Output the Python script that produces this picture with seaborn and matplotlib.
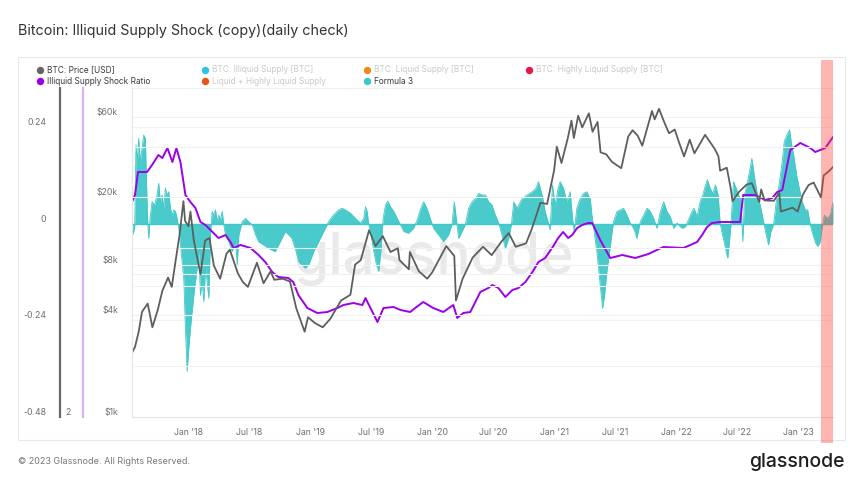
import numpy as np
import pandas as pd
import matplotlib
matplotlib.use("Agg")
import matplotlib.pyplot as plt
import matplotlib.dates as mdates
import matplotlib.transforms as mtransforms
from matplotlib.patches import Rectangle
from matplotlib.lines import Line2D
import seaborn as sns

# ---------------- data ----------------
title = "Bitcoin: Illiquid Supply Shock (copy)(daily check)"

price_dates = [
    "2017-07-16", "2017-07-25", "2017-08-05", "2017-08-15", "2017-09-01", "2017-09-15",
    "2017-10-01", "2017-10-15", "2017-11-01", "2017-11-12", "2017-11-25", "2017-12-05",
    "2017-12-17", "2017-12-22", "2018-01-01", "2018-01-07", "2018-01-17", "2018-02-06",
    "2018-02-20", "2018-03-05", "2018-03-18", "2018-04-06", "2018-04-25", "2018-05-05",
    "2018-05-29", "2018-06-13", "2018-06-28", "2018-07-25", "2018-08-14", "2018-09-04",
    "2018-09-15", "2018-10-10", "2018-11-01", "2018-11-20", "2018-12-15", "2018-12-25",
    "2019-01-15", "2019-02-07", "2019-03-01", "2019-04-03", "2019-05-01", "2019-05-15",
    "2019-06-01", "2019-06-26", "2019-07-15", "2019-08-06", "2019-08-29", "2019-09-20",
    "2019-09-25", "2019-10-23", "2019-10-26", "2019-11-22", "2019-12-17", "2020-01-01",
    "2020-02-12", "2020-03-07", "2020-03-12", "2020-04-01", "2020-05-01", "2020-06-01",
    "2020-06-27", "2020-07-27", "2020-08-17", "2020-09-07", "2020-10-08", "2020-10-25",
    "2020-11-20", "2020-12-10", "2020-12-31", "2021-01-08", "2021-01-22", "2021-02-10",
    "2021-02-21", "2021-02-28", "2021-03-13", "2021-03-25", "2021-04-14", "2021-04-25",
    "2021-05-10", "2021-05-19", "2021-06-05", "2021-06-22", "2021-07-20", "2021-08-10",
    "2021-08-23", "2021-09-07", "2021-09-21", "2021-10-20", "2021-10-28", "2021-11-10",
    "2021-11-27", "2021-12-10", "2021-12-27", "2022-01-10", "2022-01-24", "2022-02-10",
    "2022-02-24", "2022-03-28", "2022-04-25", "2022-05-07", "2022-05-12", "2022-06-01",
    "2022-06-13", "2022-06-18", "2022-07-07", "2022-07-30", "2022-08-15", "2022-09-06",
    "2022-09-12", "2022-09-22", "2022-10-20", "2022-11-05", "2022-11-10", "2022-12-15",
    "2022-12-30", "2023-01-15", "2023-02-01", "2023-02-16", "2023-03-10", "2023-03-18",
    "2023-04-01", "2023-04-15",
]
price_usd = [
    2400, 2600, 3200, 4200, 4700, 3400,
    4300, 5600, 6700, 5900, 8800, 11800,
    19000, 14500, 13500, 16500, 11200, 7000,
    11100, 11500, 7900, 6600, 9300, 9800,
    7100, 6300, 5900, 8200, 6200, 7300,
    6500, 6600, 6350, 4400, 3200, 3900,
    3600, 3400, 3800, 4900, 5300, 8000,
    8500, 12800, 10300, 11800, 9500, 10000,
    8500, 7500, 9500, 7300, 6600, 7200,
    10300, 9000, 4900, 6600, 8800, 10200,
    9100, 11000, 12300, 10200, 10700, 13000,
    18600, 18300, 29000, 40000, 32000, 45000,
    57000, 45000, 61000, 52000, 63000, 49000,
    56000, 37000, 36000, 32500, 29800, 46000,
    50000, 46500, 40500, 65000, 58000, 67000,
    55000, 48000, 50500, 41800, 35000, 44000,
    36500, 47000, 39000, 35000, 28800, 30000,
    22500, 19000, 21500, 23800, 24300, 18800,
    22300, 19200, 19100, 21300, 16500, 17400,
    16500, 20800, 23700, 24500, 20000, 27000,
    28400, 30300,
]

ratio_dates = [
    "2017-07-16", "2017-07-25", "2017-08-03", "2017-08-30", "2017-09-14", "2017-10-03",
    "2017-10-15", "2017-10-30", "2017-11-14", "2017-11-26", "2017-12-08", "2017-12-23",
    "2018-01-07", "2018-01-22", "2018-02-06", "2018-02-21", "2018-03-14", "2018-04-01",
    "2018-04-22", "2018-05-07", "2018-05-16", "2018-06-06", "2018-07-06", "2018-07-30",
    "2018-08-19", "2018-09-09", "2018-09-27", "2018-10-27", "2018-11-11", "2018-11-26",
    "2018-12-17", "2018-12-23", "2019-01-22", "2019-02-21", "2019-03-23", "2019-04-10",
    "2019-05-10", "2019-06-06", "2019-06-15", "2019-06-30", "2019-07-21", "2019-08-08",
    "2019-09-07", "2019-09-28", "2019-10-27", "2019-11-11", "2019-12-05", "2020-01-04",
    "2020-02-03", "2020-03-04", "2020-03-16", "2020-04-03", "2020-04-24", "2020-05-15",
    "2020-05-24", "2020-06-17", "2020-06-29", "2020-07-17", "2020-08-07", "2020-08-28",
    "2020-09-15", "2020-10-06", "2020-10-27", "2020-11-14", "2020-12-04", "2020-12-25",
    "2021-01-12", "2021-01-27", "2021-02-11", "2021-02-23", "2021-03-10", "2021-03-25",
    "2021-04-12", "2021-04-24", "2021-05-18", "2021-06-17", "2021-07-23", "2021-08-31",
    "2021-10-09", "2021-11-23", "2022-01-22", "2022-02-12", "2022-03-04", "2022-03-19",
    "2022-04-03", "2022-04-18", "2022-05-12", "2022-06-17", "2022-07-11", "2022-07-20",
    "2022-08-25", "2022-09-24", "2022-10-15", "2022-10-30", "2022-11-14", "2022-12-08",
    "2022-12-17", "2023-01-07", "2023-02-06", "2023-02-21", "2023-03-08", "2023-03-23",
    "2023-04-15",
]
ratio_vals = [
    2.860, 2.888, 2.980, 2.980, 3.008, 3.048,
    3.036, 3.076, 3.020, 3.076, 3.020, 2.888,
    2.860, 2.836, 2.780, 2.768, 2.740, 2.716,
    2.728, 2.700, 2.676, 2.688, 2.676, 2.648,
    2.620, 2.580, 2.560, 2.556, 2.540, 2.488,
    2.448, 2.436, 2.416, 2.420, 2.436, 2.448,
    2.456, 2.448, 2.476, 2.436, 2.380, 2.436,
    2.440, 2.428, 2.420, 2.436, 2.460, 2.436,
    2.420, 2.448, 2.396, 2.416, 2.420, 2.476,
    2.500, 2.516, 2.528, 2.516, 2.480, 2.508,
    2.516, 2.540, 2.580, 2.620, 2.636, 2.676,
    2.716, 2.740, 2.716, 2.728, 2.756, 2.768,
    2.776, 2.776, 2.708, 2.636, 2.648, 2.636,
    2.652, 2.680, 2.676, 2.688, 2.700, 2.728,
    2.760, 2.776, 2.780, 2.780, 2.780, 2.888,
    2.888, 2.868, 2.876, 2.900, 2.908, 3.068,
    3.076, 3.096, 3.076, 3.060, 3.068, 3.076,
    3.120,
]

# Formula 3: days since 2018-01-01 and values
f3_epoch = "2018-01-01"
f3_days = [
    -167, -161, -157, -153, -149, -144, -139, -134, -129, -126, -122, -119, -115, -109,
    -101, -94, -89, -84, -79, -74, -69, -64, -59, -54, -49, -44, -39, -34,
    -29, -24, -19, -14, -9, -4, 1, 6, 11, 16, 21, 26, 31, 36,
    41, 46, 51, 56, 61, 66, 71, 76, 81, 86, 91, 96, 101, 106,
    111, 121, 131, 141, 146, 151, 161, 171, 180, 191, 201, 210, 225, 240,
    260, 275, 290, 300, 310, 320, 330, 340, 350, 360, 375, 390, 400, 410,
    420, 430, 440, 450, 460, 470, 485, 500, 515, 525, 530, 535, 540, 547,
    555, 563, 570, 577, 583, 590, 597, 605, 615, 625, 635, 645, 659, 674,
    685, 694, 704, 714, 724, 734, 749, 764, 779, 789, 796, 802, 809, 819,
    829, 839, 849, 859, 869, 879, 889, 899, 909, 919, 929, 939, 949, 959,
    967, 974, 984, 999, 1014, 1029, 1041, 1048, 1059, 1068, 1078, 1083, 1090, 1098,
    1107, 1113, 1123, 1133, 1143, 1150, 1155, 1163, 1173, 1183, 1193, 1203, 1208, 1216,
    1223, 1230, 1236, 1240, 1246, 1253, 1260, 1266, 1273, 1283, 1293, 1303, 1313, 1323,
    1333, 1343, 1353, 1363, 1373, 1383, 1393, 1403, 1413, 1423, 1433, 1443, 1453, 1463,
    1478, 1488, 1497, 1508, 1514, 1523, 1532, 1540, 1547, 1554, 1562, 1570, 1578, 1586,
    1592, 1597, 1604, 1610, 1615, 1620, 1625, 1632, 1640, 1647, 1654, 1660, 1665, 1672,
    1680, 1687, 1694, 1702, 1712, 1722, 1730, 1737, 1744, 1752, 1760, 1770, 1778, 1784,
    1792, 1800, 1806, 1812, 1821, 1829, 1838, 1847, 1854, 1862, 1870, 1878, 1885, 1892,
    1897, 1904, 1912, 1922, 1930,
]
f3_vals = [
    -0.027, -0.011, 0.197, 0.155, 0.213, 0.155, 0.188, 0.221, 0.213, 0.114, 0.006, -0.036, 0.014, 0.055,
    0.047, 0.072, 0.101, 0.055, 0.072, 0.039, 0.089, 0.072, 0.080, 0.039, 0.022, 0.035, 0.031, 0.014,
    -0.011, -0.052, -0.094, -0.135, -0.260, -0.367, -0.309, -0.260, -0.218, -0.177, -0.143, -0.110, -0.069, -0.177,
    -0.143, -0.193, -0.110, -0.143, -0.185, -0.027, 0.031, 0.022, 0.035, 0.006, 0.022, 0.010, 0.031, -0.002,
    -0.027, -0.044, -0.069, -0.044, -0.102, -0.027, 0.006, 0.014, 0.006, -0.002, -0.027, -0.044, -0.052, -0.061,
    -0.069, -0.044, -0.019, -0.027, -0.036, -0.061, -0.094, -0.102, -0.110, -0.102, -0.069, -0.044, -0.027, -0.011,
    0.006, 0.018, 0.027, 0.035, 0.039, 0.035, 0.027, 0.014, 0.002, 0.014, 0.043, 0.031, -0.002, -0.027,
    -0.069, -0.102, -0.118, -0.061, 0.014, 0.047, 0.057, 0.043, 0.031, 0.014, -0.002, -0.019, -0.023, -0.011,
    0.010, 0.035, 0.055, 0.039, 0.014, -0.011, -0.027, -0.044, -0.027, -0.002, 0.055, 0.014, -0.036, -0.019,
    -0.002, 0.039, 0.055, 0.063, 0.076, 0.072, 0.072, 0.055, 0.047, 0.022, 0.002, -0.027, -0.061, -0.036,
    -0.002, 0.055, 0.039, 0.063, 0.072, 0.080, 0.089, 0.105, 0.072, 0.031, 0.002, -0.015, 0.097, 0.047,
    0.089, 0.105, 0.089, 0.055, 0.080, 0.014, -0.019, 0.039, 0.063, 0.076, 0.080, 0.063, 0.022, -0.027,
    -0.069, -0.127, -0.177, -0.210, -0.177, -0.118, -0.077, -0.036, 0.006, 0.031, 0.035, 0.039, 0.022, 0.002,
    -0.011, -0.036, 0.006, 0.022, 0.039, 0.031, 0.014, -0.011, 0.031, 0.055, 0.031, 0.018, -0.011, 0.002,
    -0.011, -0.007, 0.010, 0.031, 0.039, 0.018, 0.055, 0.072, 0.093, 0.110, 0.089, 0.076, 0.097, 0.072,
    0.002, -0.019, -0.044, -0.069, -0.085, -0.044, 0.006, 0.105, 0.089, 0.072, 0.064, -0.044, 0.072, 0.097,
    0.130, 0.163, 0.122, 0.080, 0.047, 0.006, -0.027, -0.052, -0.019, -0.002, 0.055, 0.105, 0.155, 0.205,
    0.221, 0.234, 0.197, 0.172, 0.122, 0.089, 0.055, 0.035, 0.035, -0.002, -0.027, -0.048, -0.056, -0.044,
    -0.011, 0.022, 0.014, 0.022, 0.055,
]

x_start, x_end = "2017-07-16", "2023-04-15"
band_start = "2023-03-10"

price_ticks = [1000, 4000, 8000, 20000, 60000]
price_ticklabels = ["$1k", "$4k", "$8k", "$20k", "$60k"]
price_grid = [2000, 4000, 6000, 7000, 8000, 10000, 20000, 40000, 60000]
f3_ticks = [-0.48, -0.24, 0, 0.24]
f3_ticklabels = ["-0.48", "-0.24", "0", "0.24"]
ratio_ticks = [2]
ratio_ticklabels = ["2"]
xtick_dates = ["2018-01-01", "2018-07-01", "2019-01-01", "2019-07-01", "2020-01-01",
               "2020-07-01", "2021-01-01", "2021-07-01", "2022-01-01", "2022-07-01",
               "2023-01-01"]

legend_labels = ["BTC: Price [USD]", "BTC: Illiquid Supply [BTC]", "BTC: Liquid Supply [BTC]",
                 "BTC: Highly Liquid Supply [BTC]", "Illiquid Supply Shock Ratio",
                 "Liquid + Highly Liquid Supply", "Formula 3"]
legend_colors = ["#666666", "#2ec4e6", "#f0891c", "#e81748", "#9b00e8", "#e8521e", "#3ec7c7"]
legend_active = [True, False, False, False, True, False, True]

# ---------------- styling ----------------
sns.set_theme(style="white")
plt.rcParams["font.family"] = ["Inter", "DejaVu Sans"]

C_PRICE = "#5e5e5e"
C_RATIO = "#9b00e8"
C_F3 = "#40c8c8"
C_TICK = "#6f6f6f"

W, H = 863, 484
fig = plt.figure(figsize=(W / 100, H / 100), dpi=100)
fig.patch.set_facecolor("white")

L, R, T, B = 132, 833, 88, 417
rect = [L / W, 1 - B / H, (R - L) / W, (B - T) / H]
ax_f = fig.add_axes(rect)
ax_r = fig.add_axes(rect, sharex=ax_f)
ax_p = fig.add_axes(rect, sharex=ax_f)
for a in (ax_r, ax_p):
    a.patch.set_visible(False)

df_p = pd.DataFrame({"date": pd.to_datetime(price_dates), "price": price_usd})
df_r = pd.DataFrame({"date": pd.to_datetime(ratio_dates), "ratio": ratio_vals})
df_f = pd.DataFrame({"date": pd.Timestamp(f3_epoch) + pd.to_timedelta(f3_days, unit="D"),
                     "f3": f3_vals})

# Formula 3 (teal area)
ax_f.fill_between(df_f["date"], 0, df_f["f3"], color=C_F3, lw=0, alpha=0.95, zorder=2)
sns.lineplot(data=df_f, x="date", y="f3", ax=ax_f, color=C_F3, lw=0.6, zorder=2)
ax_f.axhline(0, color=C_F3, lw=1.0, zorder=2)

# Ratio (purple)
sns.lineplot(data=df_r, x="date", y="ratio", ax=ax_r, color=C_RATIO, lw=1.4)

# Price (gray, log)
sns.lineplot(data=df_p, x="date", y="price", ax=ax_p, color=C_PRICE, lw=1.3)
ax_p.set_yscale("log")

# axis limits
xl = (pd.Timestamp(x_start), pd.Timestamp(x_end))
ax_f.set_xlim(*xl)
ax_f.set_ylim(-0.48, 0.338)
ax_r.set_ylim(2.0, 3.316)
ax_p.set_ylim(1000, 89000)

# gridlines (price levels)
for g in price_grid:
    ax_p.axhline(g, color="#f1f1f1", lw=0.8, zorder=0)
for g in (0.24, -0.24):
    ax_f.axhline(g, color="#f1f1f1", lw=0.8, zorder=0)

# watermark
ax_f.text(0.43, 0.48, "glassnode", transform=ax_f.transAxes, ha="center", va="center",
          fontsize=41, color="#e9e9e9", zorder=1, fontweight="medium")

# ticks
for a in (ax_f, ax_r, ax_p):
    for s in ("top", "right", "bottom", "left"):
        a.spines[s].set_visible(False)
    a.set_xlabel("")
    a.set_ylabel("")
    a.grid(False)

ax_f.set_xticks(pd.to_datetime(xtick_dates))
ax_f.xaxis.set_major_formatter(mdates.DateFormatter("%b '%y"))
ax_f.tick_params(axis="x", labelsize=6.3, colors=C_TICK, length=3, width=0.6, pad=5,
                 color="#e4e4e4")
ax_f.spines["bottom"].set_visible(True)
ax_f.spines["bottom"].set_color("#e4e4e4")
ax_f.spines["bottom"].set_linewidth(0.8)
ax_f.spines["top"].set_visible(True)
ax_f.spines["top"].set_color("#efefef")
ax_f.spines["top"].set_linewidth(0.8)
for a in (ax_r, ax_p):
    a.tick_params(axis="x", bottom=False, labelbottom=False)

# formula axis: far left
ax_f.spines["left"].set_visible(True)
ax_f.spines["left"].set_position(("axes", (60 - L) / (R - L)))
ax_f.spines["left"].set_color("#6a6a6a")
ax_f.spines["left"].set_linewidth(1.6)
ax_f.set_yticks(f3_ticks)
ax_f.set_yticklabels(f3_ticklabels)
ax_f.tick_params(axis="y", length=0, pad=10, labelsize=6.3, colors=C_TICK)

# ratio axis
ax_r.spines["left"].set_visible(True)
ax_r.spines["left"].set_position(("axes", (83 - L) / (R - L)))
ax_r.spines["left"].set_color("#dbb1ef")
ax_r.spines["left"].set_linewidth(1.6)
ax_r.set_yticks(ratio_ticks)
ax_r.set_yticklabels(ratio_ticklabels)
ax_r.tick_params(axis="y", length=0, pad=9, labelsize=6.3, colors=C_TICK)

# price axis
ax_p.spines["left"].set_visible(True)
ax_p.spines["left"].set_color("#e4e4e4")
ax_p.spines["left"].set_linewidth(0.8)
ax_p.set_yticks(price_ticks)
ax_p.set_yticklabels(price_ticklabels)
ax_p.yaxis.set_minor_locator(matplotlib.ticker.NullLocator())
ax_p.tick_params(axis="y", length=0, pad=10, labelsize=6.3, colors=C_TICK)

for a in (ax_f, ax_r, ax_p):
    for lab in a.get_yticklabels():
        lab.set_verticalalignment("bottom")

# red highlight band (spans beyond plot area vertically)
trans = mtransforms.blended_transform_factory(ax_p.transData, fig.transFigure)
x0 = mdates.date2num(pd.Timestamp(band_start))
x1 = mdates.date2num(pd.Timestamp(x_end))
band = Rectangle((x0, 1 - 443 / H), x1 - x0, (443 - 60) / H, transform=trans,
                 facecolor="#ff3b30", alpha=0.37, lw=0, clip_on=False, zorder=10)
fig.add_artist(band)

# outer frame
fig.add_artist(Rectangle((18 / W, 1 - 440 / H), (845 - 18) / W, (440 - 57) / H,
                         transform=fig.transFigure, fill=False, edgecolor="#e8e8e8",
                         lw=0.8, zorder=0))

# title
fig.text(18 / W, 1 - 31 / H, title, ha="left", va="center", fontsize=10.3, color="#333333")

# legend
leg_x = [40, 205, 367, 529, 40, 205, 367]
leg_y = [70, 70, 70, 70, 81, 81, 81]
for lx, ly, lab, col, act in zip(leg_x, leg_y, legend_labels, legend_colors, legend_active):
    fig.add_artist(Line2D([lx / W], [1 - ly / H], marker="o", ms=4.3, color=col, lw=0,
                          transform=fig.transFigure))
    fig.text((lx + 7) / W, 1 - ly / H, lab, ha="left", va="center", fontsize=6,
             color="#3a3a3a" if act else "#c9c9c9")

# footer
fig.text(18 / W, 1 - 462 / H, "\u00a9 2023 Glassnode. All Rights Reserved.", ha="left",
         va="center", fontsize=6.5, color="#777777")
fig.text(845 / W, 1 - 462 / H, "glassnode", ha="right", va="center", fontsize=14,
         color="#1e1e1e", fontweight="medium")

fig.savefig("out.png", dpi=100, facecolor="white")
